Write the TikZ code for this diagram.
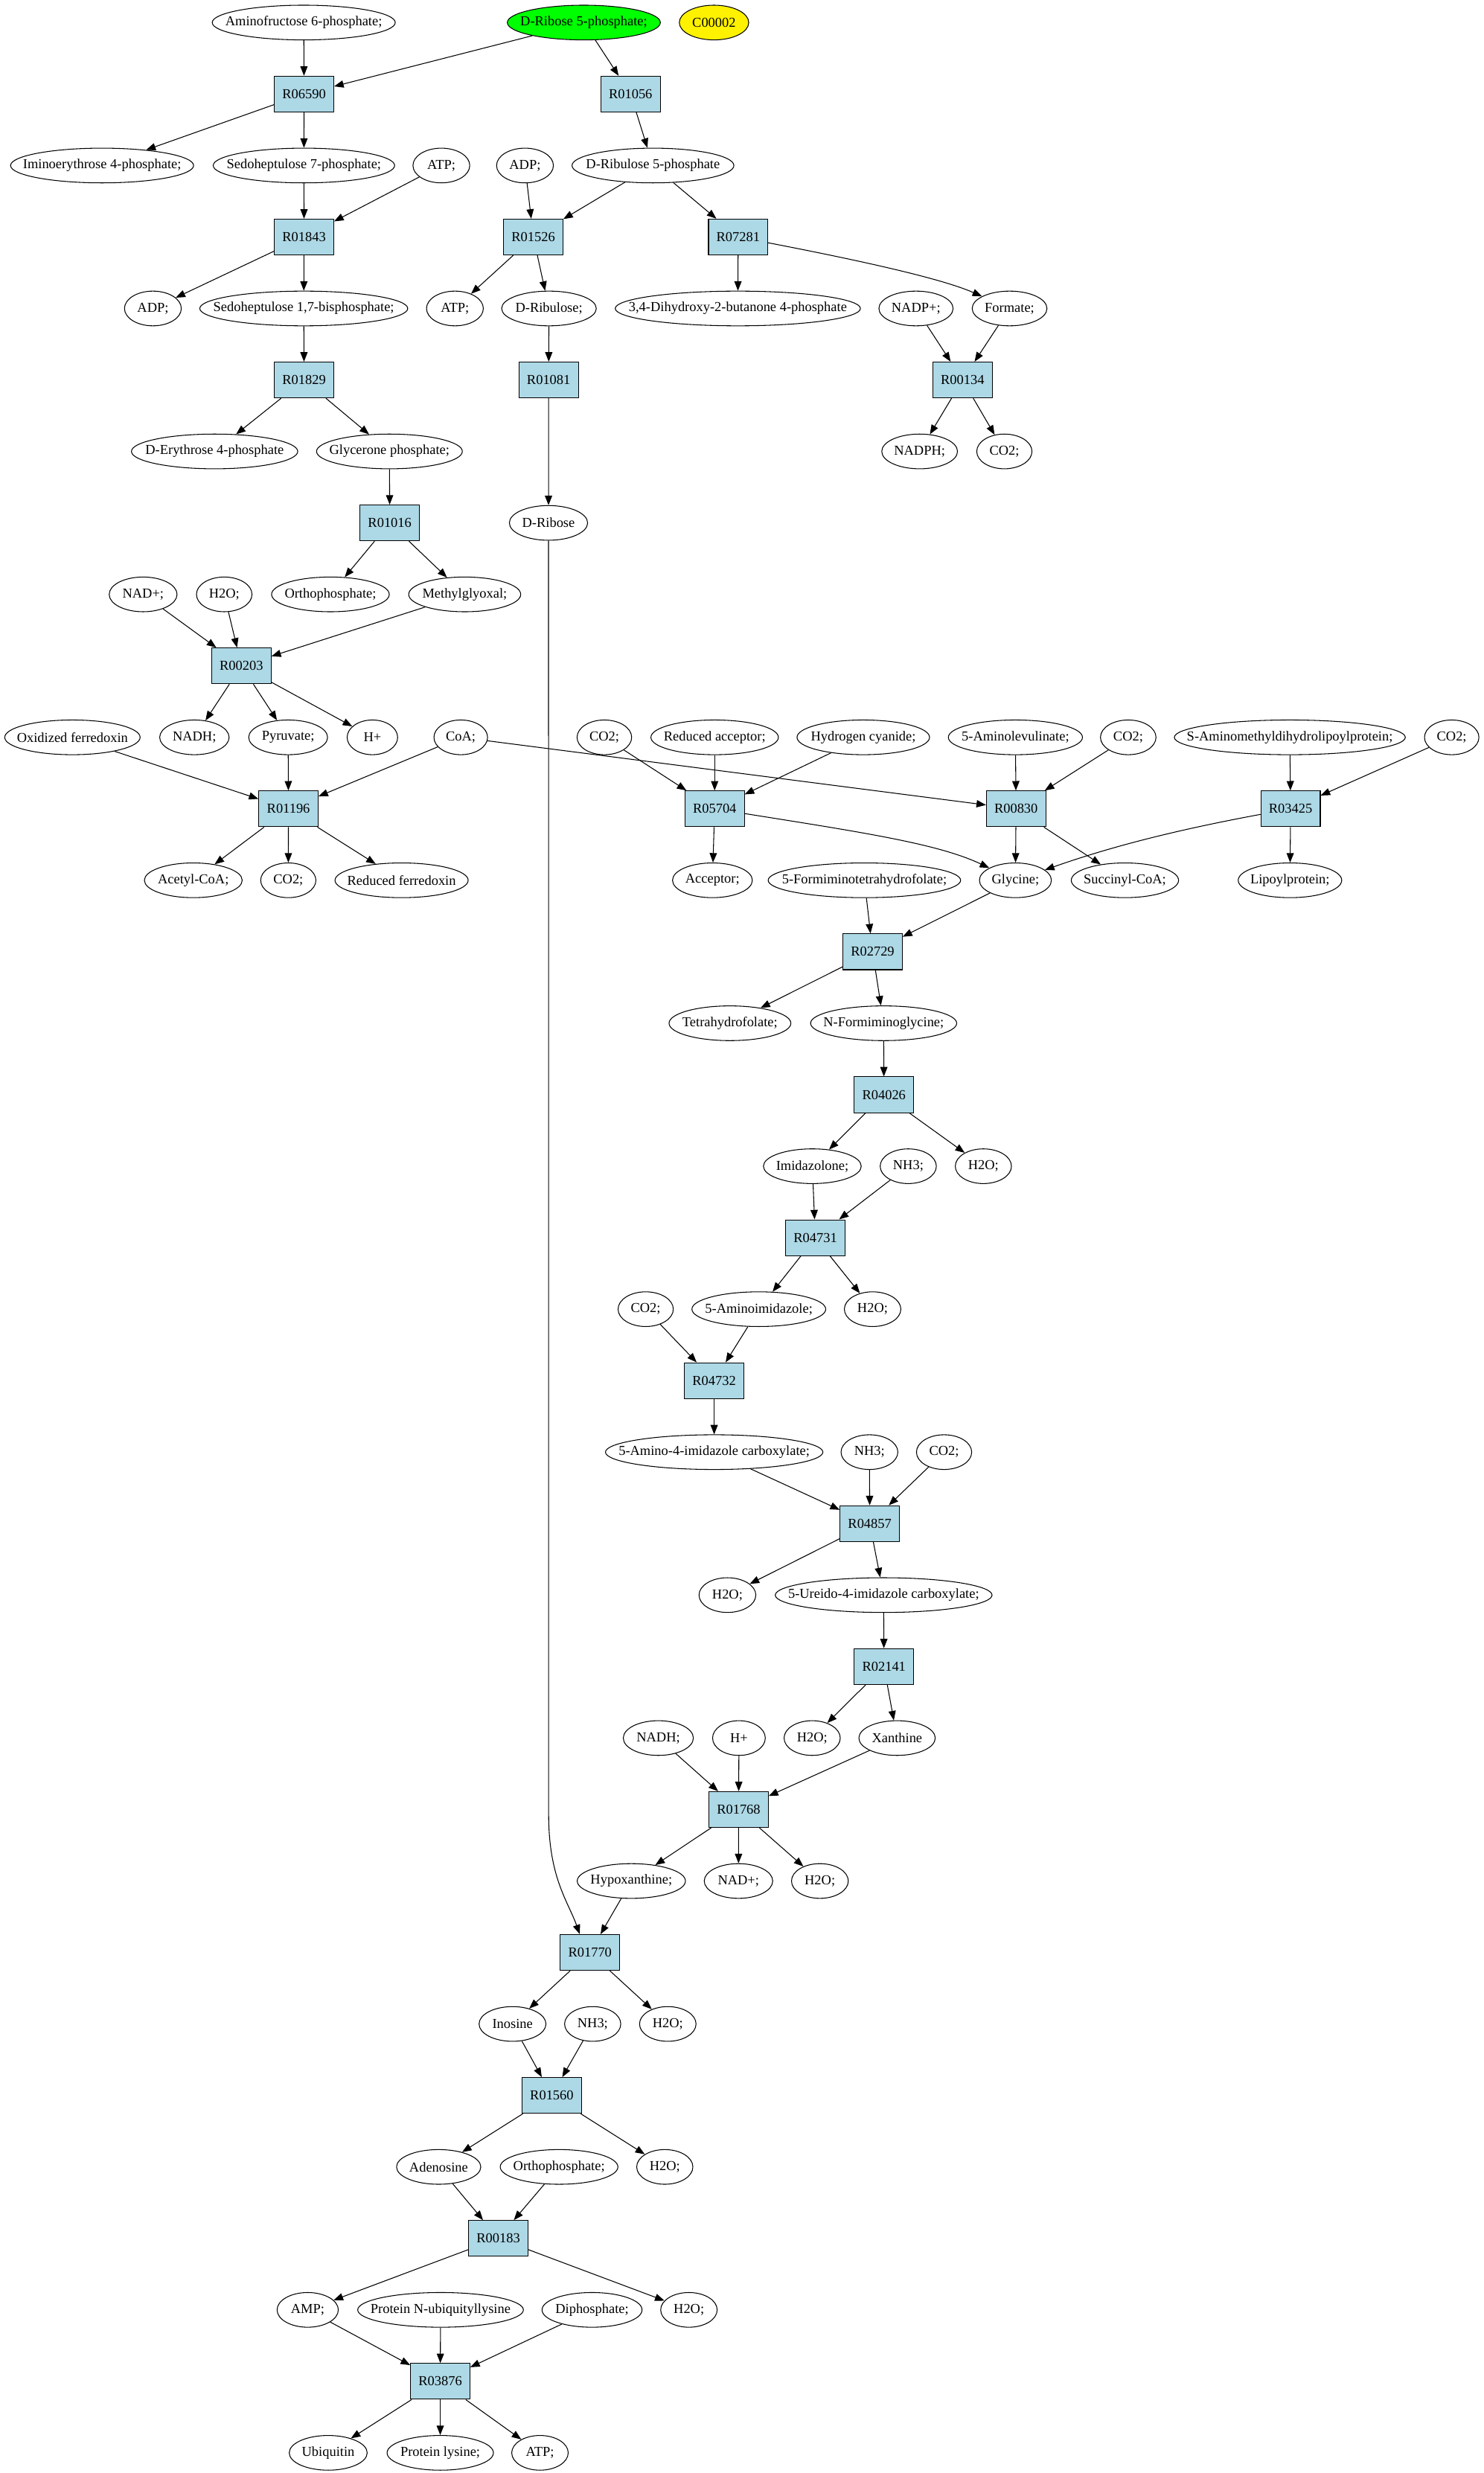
\documentclass[tikz,border=0pt]{standalone}
\usepackage{fontspec}
\setmainfont{Liberation Serif}
\usetikzlibrary{arrows.meta,shapes.geometric}
\definecolor{rxnblue}{HTML}{ADD8E6}
\tikzset{
  met/.style={draw, ellipse, inner xsep=-25pt, inner ysep=0pt, minimum height=22pt, minimum width=#1},
  met/.default=36pt,
  rxn/.style={draw, fill=rxnblue, minimum width=37.6pt, minimum height=22.7pt, inner sep=0pt}
}
\begin{document}
\begin{tikzpicture}[x=1pt, y=-1pt, line width=0.5pt, font=\fontsize{8.7}{10}\selectfont,
    >={Triangle[length=6pt, width=4.6pt]}]
  \useasboundingbox (0, 0) rectangle (940, 1567.3);

  % compounds and reactions, rank by rank
  \node [met=116pt] (amf6p) at (192.5, 14.3) {Aminofructose 6-phosphate;};
  \node [met=97pt, fill=green] (rib5p) at (370, 14.3) {D-Ribose 5-phosphate;};
  \node [met=44pt, fill=yellow] (c00002) at (452.5, 14.3) {C00002};

  \node [rxn] (R06590) at (192.7, 59.6) {R06590};
  \node [rxn] (R01056) at (399.6, 59.6) {R01056};

  \node [met=116pt] (ie4p) at (64.7, 104.9) {Iminoerythrose 4-phosphate;};
  \node [met=115pt] (s7p) at (192.6, 104.9) {Sedoheptulose 7-phosphate;};
  \node [met] (atpA) at (279.7, 104.9) {ATP;};
  \node [met] (adpA) at (332.7, 104.9) {ADP;};
  \node [met=102.6pt] (ru5p) at (413.8, 104.9) {D-Ribulose 5-phosphate};

  \node [rxn] (R01843) at (192.7, 150.2) {R01843};
  \node [rxn] (R01526) at (338, 150.2) {R01526};
  \node [rxn] (R07281) at (467.8, 150.2) {R07281};

  \node [met] (adpB) at (96.9, 195.5) {ADP;};
  \node [met=131.8pt] (s17bp) at (192.5, 195.5) {Sedoheptulose 1,7-bisphosphate;};
  \node [met] (atpB) at (288.3, 195.5) {ATP;};
  \node [met=60pt] (rul) at (347.9, 195.5) {D-Ribulose;};
  \node [met=155.4pt] (dhbp) at (467.6, 195.5) {3,4-Dihydroxy-2-butanone 4-phosphate};
  \node [met=47pt] (nadpA) at (580.5, 195.5) {NADP+;};
  \node [met=47.4pt] (formate) at (639.8, 195.5) {Formate;};

  \node [rxn] (R01829) at (192.7, 240.8) {R01829};
  \node [rxn] (R01081) at (347.7, 240.8) {R01081};
  \node [rxn] (R00134) at (610, 240.8) {R00134};

  \node [met=105.4pt] (e4p) at (136, 286.1) {D-Erythrose 4-phosphate};
  \node [met=92.4pt] (gap) at (246.8, 286.1) {Glycerone phosphate;};
  \node [met=48pt] (nadph) at (582.8, 286.1) {NADPH;};
  \node [met=35pt] (co2A) at (636.5, 286.1) {CO2;};

  \node [rxn] (R01016) at (247, 331.4) {R01016};
  \node [met=49.6pt] (rib) at (347.6, 331.4) {D-Ribose};

  \node [met=43pt] (nadA) at (90.7, 376.7) {NAD+;};
  \node [met=35.2pt] (h2oA) at (142.1, 376.7) {H2O;};
  \node [met=74.6pt] (piA) at (209.4, 376.7) {Orthophosphate;};
  \node [met=71pt] (mgx) at (294.5, 376.7) {Methylglyoxal;};

  \node [rxn] (R00203) at (153, 422) {R00203};

  \node [met=85.8pt] (oxfd) at (45.9, 467.3) {Oxidized ferredoxin};
  \node [met=44pt] (nadhA) at (123.2, 467.3) {NADH;};
  \node [met=50pt] (pyr) at (182.6, 467.3) {Pyruvate;};
  \node [met=32pt] (hA) at (236, 467.3) {H+};
  \node [met=34pt] (coa) at (292, 467.3) {CoA;};
  \node [met=34.6pt] (co2B) at (383, 467.3) {CO2;};
  \node [met=80.8pt] (redacc) at (452.9, 467.3) {Reduced acceptor;};
  \node [met=84pt] (hcn) at (547.1, 467.3) {Hydrogen cyanide;};
  \node [met=85pt] (ala) at (643.5, 467.3) {5-Aminolevulinate;};
  \node [met=35.2pt] (co2C) at (715, 467.3) {CO2;};
  \node [met=146.4pt] (samdl) at (817.4, 467.3) {S-Aminomethyldihydrolipoylprotein;};
  \node [met=34.5pt] (co2D) at (920, 467.3) {CO2;};

  \node [rxn] (R01196) at (182.8, 512.6) {R01196};
  \node [rxn] (R05704) at (452.9, 512.6) {R05704};
  \node [rxn] (R00830) at (643.9, 512.6) {R00830};
  \node [rxn] (R03425) at (817.9, 512.6) {R03425};

  \node [met=62pt] (accoa) at (122.5, 557.9) {Acetyl-CoA;};
  \node [met=35pt] (co2E) at (182.7, 557.9) {CO2;};
  \node [met=84.4pt] (redfd) at (254.5, 557.9) {Reduced ferredoxin};
  \node [met=50.6pt] (acc) at (451.5, 557.9) {Acceptor;};
  \node [met=122pt] (fthf) at (547.8, 557.9) {5-Formiminotetrahydrofolate;};
  \node [met=45.6pt] (gly) at (643.5, 557.9) {Glycine;};
  \node [met=68pt] (succoa) at (712.9, 557.9) {Succinyl-CoA;};
  \node [met=65.6pt] (lipo) at (817.5, 557.9) {Lipoylprotein;};

  \node [rxn] (R02729) at (553, 603.2) {R02729};

  \node [met=77.2pt] (thf) at (462.6, 648.5) {Tetrahydrofolate;};
  \node [met=92.6pt] (fgly) at (560, 648.5) {N-Formiminoglycine;};

  \node [rxn] (R04026) at (560.2, 693.8) {R04026};

  \node [met=62pt] (imz) at (514.8, 739.1) {Imidazolone;};
  \node [met=35.6pt] (nh3A) at (575.6, 739.1) {NH3;};
  \node [met=35.6pt] (h2oB) at (623.2, 739.1) {H2O;};

  \node [rxn] (R04731) at (516.7, 784.4) {R04731};

  \node [met=35pt] (co2F) at (409.2, 829.7) {CO2;};
  \node [met=84.8pt] (aimz) at (480.9, 829.7) {5-Aminoimidazole;};
  \node [met=35.8pt] (h2oC) at (553, 829.7) {H2O;};

  \node [rxn] (R04732) at (452.6, 875) {R04732};

  \node [met=137.8pt] (aic) at (452.6, 920.3) {5-Amino-4-imidazole carboxylate;};
  \node [met] (nh3B) at (551, 920.3) {NH3;};
  \node [met=35pt] (co2G) at (598.3, 920.3) {CO2;};

  \node [rxn] (R04857) at (551.2, 965.6) {R04857};

  \node [met] (h2oD) at (461, 1010.9) {H2O;};
  \node [met=137.4pt] (uic) at (560, 1010.9) {5-Ureido-4-imidazole carboxylate;};

  \node [rxn] (R02141) at (560.2, 1056.2) {R02141};

  \node [met=44.4pt] (nadhB) at (417.2, 1101.5) {NADH;};
  \node [met=33.4pt] (hB) at (468.3, 1101.5) {H+};
  \node [met=35.6pt] (h2oE) at (514.7, 1101.5) {H2O;};
  \node [met=48.4pt] (xan) at (568.5, 1101.5) {Xanthine};

  \node [rxn] (R01768) at (468.1, 1146.8) {R01768};

  \node [met=68.6pt] (hyp) at (400.1, 1192.1) {Hypoxanthine;};
  \node [met=43.4pt] (nadB) at (468, 1192.1) {NAD+;};
  \node [met] (h2oF) at (519.6, 1192.1) {H2O;};

  \node [rxn] (R01770) at (373.9, 1237.4) {R01770};

  \node [met=42.4pt] (ino) at (324.8, 1282.7) {Inosine};
  \node [met=35.6pt] (nh3C) at (375.6, 1282.7) {NH3;};
  \node [met=35.8pt] (h2oG) at (423.2, 1282.7) {H2O;};

  \node [rxn] (R01560) at (349.7, 1328) {R01560};

  \node [met=53.4pt] (ado) at (278, 1373.3) {Adenosine};
  \node [met=74.6pt] (piB) at (354.3, 1373.3) {Orthophosphate;};
  \node [met=35.6pt] (h2oH) at (421.3, 1373.3) {H2O;};

  \node [rxn] (R00183) at (315.8, 1418.6) {R00183};

  \node [met=38.8pt] (amp) at (195, 1463.9) {AMP;};
  \node [met=105pt] (pnul) at (279.2, 1463.9) {Protein N-ubiquityllysine};
  \node [met=63.4pt] (ppi) at (375.2, 1463.9) {Diphosphate;};
  \node [met=35.8pt] (h2oI) at (436.6, 1463.9) {H2O;};

  \node [rxn] (R03876) at (279, 1509.2) {R03876};

  \node [met=49.4pt] (ubq) at (208, 1554.5) {Ubiquitin};
  \node [met=67.4pt] (plys) at (279, 1554.5) {Protein lysine;};
  \node [met=35.8pt] (atpC) at (342.2, 1554.5) {ATP;};

  % edges
  \draw [->] (amf6p) -- (R06590);
  \draw [->] (rib5p) -- (R06590);
  \draw [->] (rib5p) -- (R01056);
  \draw [->] (R06590) -- (ie4p);
  \draw [->] (R06590) -- (s7p);
  \draw [->] (s7p) -- (R01843);
  \draw [->] (atpA) -- (R01843);
  \draw [->] (R01843) -- (adpB);
  \draw [->] (R01843) -- (s17bp);
  \draw [->] (s17bp) -- (R01829);
  \draw [->] (R01829) -- (e4p);
  \draw [->] (R01829) -- (gap);
  \draw [->] (gap) -- (R01016);
  \draw [->] (R01016) -- (piA);
  \draw [->] (R01016) -- (mgx);

  \draw [->] (R01056) -- (ru5p);
  \draw [->] (adpA) -- (R01526);
  \draw [->] (ru5p) -- (R01526);
  \draw [->] (ru5p) -- (R07281);
  \draw [->] (R01526) -- (atpB);
  \draw [->] (R01526) -- (rul);
  \draw [->] (rul) -- (R01081);
  \draw [->] (R01081) -- (rib);
  \draw [->] (R07281) -- (dhbp);
  \draw [->] (R07281) .. controls (560, 168) and (600, 178) .. (formate);
  \draw [->] (nadpA) -- (R00134);
  \draw [->] (formate) -- (R00134);
  \draw [->] (R00134) -- (nadph);
  \draw [->] (R00134) -- (co2A);

  \draw [->] (nadA) -- (R00203);
  \draw [->] (h2oA) -- (R00203);
  \draw [->] (mgx) -- (R00203);
  \draw [->] (R00203) -- (nadhA);
  \draw [->] (R00203) -- (pyr);
  \draw [->] (R00203) -- (hA);

  \draw [->] (oxfd) -- (R01196);
  \draw [->] (pyr) -- (R01196);
  \draw [->] (coa) -- (R01196);
  \draw [->] (coa) -- (R00830);
  \draw [->] (R01196) -- (accoa);
  \draw [->] (R01196) -- (co2E);
  \draw [->] (R01196) -- (redfd);

  \draw [->] (co2B) -- (R05704);
  \draw [->] (redacc) -- (R05704);
  \draw [->] (hcn) -- (R05704);
  \draw [->] (R05704) -- (acc);
  \draw [->] (R05704) .. controls (550, 528) and (595, 535) .. (gly);
  \draw [->] (ala) -- (R00830);
  \draw [->] (co2C) -- (R00830);
  \draw [->] (R00830) -- (gly);
  \draw [->] (R00830) -- (succoa);
  \draw [->] (samdl) -- (R03425);
  \draw [->] (co2D) -- (R03425);
  \draw [->] (R03425) .. controls (740, 527) and (700, 538) .. (gly);
  \draw [->] (R03425) -- (lipo);

  \draw [->] (fthf) -- (R02729);
  \draw [->] (gly) -- (R02729);
  \draw [->] (R02729) -- (thf);
  \draw [->] (R02729) -- (fgly);
  \draw [->] (fgly) -- (R04026);
  \draw [->] (R04026) -- (imz);
  \draw [->] (R04026) -- (h2oB);
  \draw [->] (imz) -- (R04731);
  \draw [->] (nh3A) -- (R04731);
  \draw [->] (R04731) -- (aimz);
  \draw [->] (R04731) -- (h2oC);
  \draw [->] (co2F) -- (R04732);
  \draw [->] (aimz) -- (R04732);
  \draw [->] (R04732) -- (aic);
  \draw [->] (aic) -- (R04857);
  \draw [->] (nh3B) -- (R04857);
  \draw [->] (co2G) -- (R04857);
  \draw [->] (R04857) -- (h2oD);
  \draw [->] (R04857) -- (uic);
  \draw [->] (uic) -- (R02141);
  \draw [->] (R02141) -- (h2oE);
  \draw [->] (R02141) -- (xan);

  \draw [->] (nadhB) -- (R01768);
  \draw [->] (hB) -- (R01768);
  \draw [->] (xan) -- (R01768);
  \draw [->] (R01768) -- (hyp);
  \draw [->] (R01768) -- (nadB);
  \draw [->] (R01768) -- (h2oF);

  \coordinate (ribbend) at (347.7, 1150);
  \draw [->] (rib) -- (ribbend) .. controls (347.7, 1190) and (360, 1205) .. ([xshift=-6.5pt]R01770.north);
  \draw [->] (hyp) -- (R01770);
  \draw [->] (R01770) -- (ino);
  \draw [->] (R01770) -- (h2oG);
  \draw [->] (ino) -- (R01560);
  \draw [->] (nh3C) -- (R01560);
  \draw [->] (R01560) -- (ado);
  \draw [->] (R01560) -- (h2oH);
  \draw [->] (ado) -- (R00183);
  \draw [->] (piB) -- (R00183);
  \draw [->] (R00183) -- (amp);
  \draw [->] (R00183) -- (h2oI);
  \draw [->] (amp) -- (R03876);
  \draw [->] (pnul) -- (R03876);
  \draw [->] (ppi) -- (R03876);
  \draw [->] (R03876) -- (ubq);
  \draw [->] (R03876) -- (plys);
  \draw [->] (R03876) -- (atpC);
\end{tikzpicture}
\end{document}
